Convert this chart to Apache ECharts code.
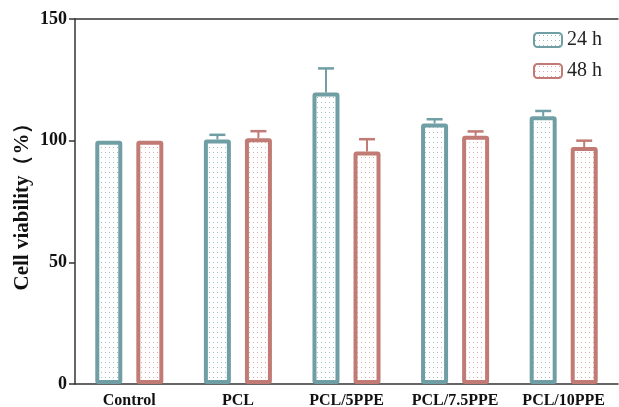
<!DOCTYPE html>
<html><head><meta charset="utf-8">
<script src="https://cdn.jsdelivr.net/npm/echarts@6/dist/echarts.min.js"></script>
<style>html,body{margin:0;padding:0;background:#fff}#c{width:619px;height:407px}</style>
</head><body><div id="c"></div>
<script>
const categories = ['Control', 'PCL', 'PCL/5PPE', 'PCL/7.5PPE', 'PCL/10PPE'];
const series24 = [100, 100.5, 119.8, 107.1, 110.0];
const err24 = [0, 1.9, 9.9, 1.7, 2.2];
const series48 = [100, 101.0, 95.5, 102.0, 97.4];
const err48 = [0, 2.9, 5.1, 1.8, 2.6];
const yTicks = [0, 50, 100, 150];

const C24 = '#6f9ea4', C48 = '#c27a75';
function dotPattern(color) {
  const cv = document.createElement('canvas');
  cv.width = 4; cv.height = 5;
  const ctx = cv.getContext('2d');
  ctx.fillStyle = '#fff'; ctx.fillRect(0, 0, 4, 5);
  ctx.fillStyle = color; ctx.fillRect(1, 2, 1, 1);
  return { image: cv, repeat: 'repeat' };
}
const FONT = 'Liberation Serif';
const BW = 27, OFF = 20.5;
function errSeries(name, vals, errs, color, off) {
  return {
    type: 'custom', name: name + ' err', z: 5, silent: true,
    data: vals.map((v, i) => [i, v, errs[i]]),
    renderItem: function (params, api) {
      const i = api.value(0), v = api.value(1), e = api.value(2);
      if (!e) return null;
      const p0 = api.coord([i, v]), p1 = api.coord([i, v + e]);
      const x = p0[0] + off;
      return { type: 'group', children: [
        { type: 'line', shape: { x1: x, y1: p0[1], x2: x, y2: p1[1] }, style: { stroke: color, lineWidth: 2 } },
        { type: 'line', shape: { x1: x - 8, y1: p1[1], x2: x + 8, y2: p1[1] }, style: { stroke: color, lineWidth: 2.5 } }
      ]};
    }
  };
}
const chart = echarts.init(document.getElementById('c'));
chart.setOption({
  animation: false,
  grid: { left: 75, right: 1, top: 19, bottom: 23, outerBoundsMode: 'none', containLabel: false },
  legend: {
    orient: 'vertical', right: 12, top: 25, itemWidth: 28, itemHeight: 14, itemGap: 11,
    data: ['24 h', '48 h'],
    textStyle: { fontFamily: FONT, fontSize: 20, color: '#222' }
  },
  xAxis: [{
    type: 'category', data: categories,
    axisLine: { lineStyle: { color: '#333', width: 1.5 } },
    axisTick: { show: false },
    axisLabel: { interval: 0, hideOverlap: false, fontFamily: FONT, fontWeight: 'bold', fontSize: 16, color: '#111', margin: 9 }
  }, {
    type: 'category', position: 'top', data: categories,
    axisLine: { lineStyle: { color: '#333', width: 1.5 } },
    axisTick: { show: false }, axisLabel: { show: false }
  }],
  yAxis: {
    type: 'value', min: 0, max: 150, interval: 50,
    name: 'Cell viability（%）', nameLocation: 'middle', nameGap: 42, nameMoveOverlap: false,
    nameTextStyle: { fontFamily: FONT, fontWeight: 'bold', fontSize: 21, color: '#111' },
    axisLine: { show: true, lineStyle: { color: '#333', width: 1.5 } },
    axisTick: { show: true, length: 6, lineStyle: { color: '#333', width: 1.5 } },
    axisLabel: { fontFamily: FONT, fontWeight: 'bold', fontSize: 18, color: '#111', margin: 8,
      formatter: v => yTicks.includes(v) ? String(v) : '' },
    splitLine: { show: false }
  },
  series: [
    { name: '24 h', type: 'bar', data: series24, barWidth: BW, barGap: '52%',
      itemStyle: { color: dotPattern('#9fc0c4'), borderColor: C24, borderWidth: 4, borderRadius: 1 } },
    { name: '48 h', type: 'bar', data: series48, barWidth: BW, barGap: '52%',
      itemStyle: { color: dotPattern('#e0aaa6'), borderColor: C48, borderWidth: 4, borderRadius: 1 } },
    errSeries('24 h', series24, err24, C24, -OFF),
    errSeries('48 h', series48, err48, C48, OFF)
  ]
});
</script></body></html>
